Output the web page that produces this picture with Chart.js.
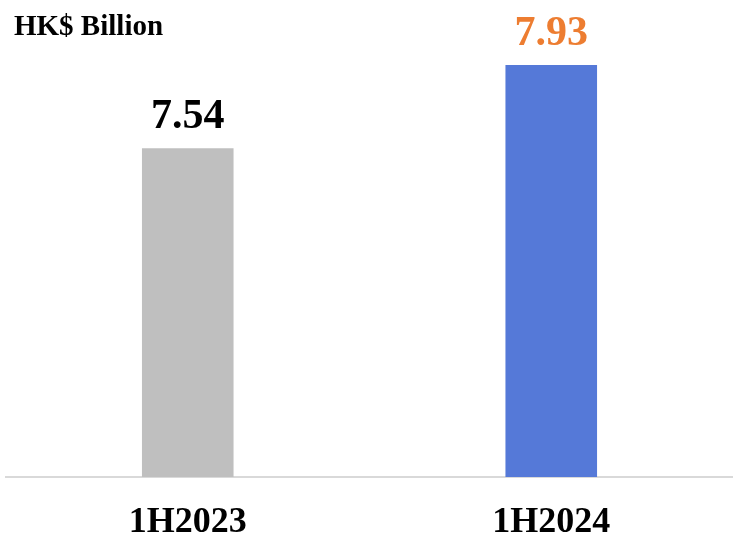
<!DOCTYPE html>
<html>
<head>
<meta charset="utf-8">
<script src="https://cdn.jsdelivr.net/npm/chart.js@4/dist/chart.umd.min.js"></script>
<style>
  html, body { margin: 0; padding: 0; background: #fff; }
  canvas { display: block; }
</style>
</head>
<body>
<canvas id="profitChart" width="733" height="535"></canvas>
<script>
const periods = ["1H2023", "1H2024"];
const profits = [7.54, 7.93];
const barColors = ["#bfbfbf", "#5579d8"];
const valueColors = ["#000000", "#ed7d31"];
const unitLabel = "HK$ Billion";

const serif = '"Liberation Serif", "Times New Roman", serif';

// value above each bar
const valueLabels = {
  id: "valueLabels",
  afterDatasetsDraw(chart) {
    const ctx = chart.ctx;
    const meta = chart.getDatasetMeta(0);
    ctx.save();
    ctx.font = "bold 42px " + serif;
    ctx.textAlign = "center";
    ctx.textBaseline = "alphabetic";
    meta.data.forEach(function (bar, i) {
      ctx.fillStyle = valueColors[i];
      ctx.fillText(profits[i].toFixed(2), bar.x, bar.y - 20);
    });
    ctx.restore();
  },
};

// unit caption in the top left corner
const unitCaption = {
  id: "unitCaption",
  afterDraw(chart) {
    const ctx = chart.ctx;
    ctx.save();
    ctx.font = "bold 29px " + serif;
    ctx.fillStyle = "#000";
    ctx.textAlign = "left";
    ctx.textBaseline = "alphabetic";
    ctx.fillText(unitLabel, 14, 35);
    ctx.restore();
  },
};

new Chart(document.getElementById("profitChart").getContext("2d"), {
  type: "bar",
  data: {
    labels: periods,
    datasets: [
      {
        data: profits,
        backgroundColor: barColors,
        borderWidth: 0,
        barPercentage: 1,
        categoryPercentage: 0.252,
      },
    ],
  },
  options: {
    responsive: false,
    animation: false,
    devicePixelRatio: 1,
    layout: {
      padding: { top: 50, left: 6, right: -2, bottom: -34 },
    },
    plugins: {
      legend: { display: false },
      tooltip: { enabled: false },
    },
    scales: {
      y: {
        display: false,
        min: 6,
        max: 8,
      },
      x: {
        grid: { display: false, drawTicks: false },
        border: { color: "#d9d9d9", width: 2 },
        ticks: {
          color: "#000",
          padding: 28,
          font: { family: serif, size: 36, weight: "bold", lineHeight: 1 },
        },
      },
    },
  },
  plugins: [valueLabels, unitCaption],
});
</script>
</body>
</html>
